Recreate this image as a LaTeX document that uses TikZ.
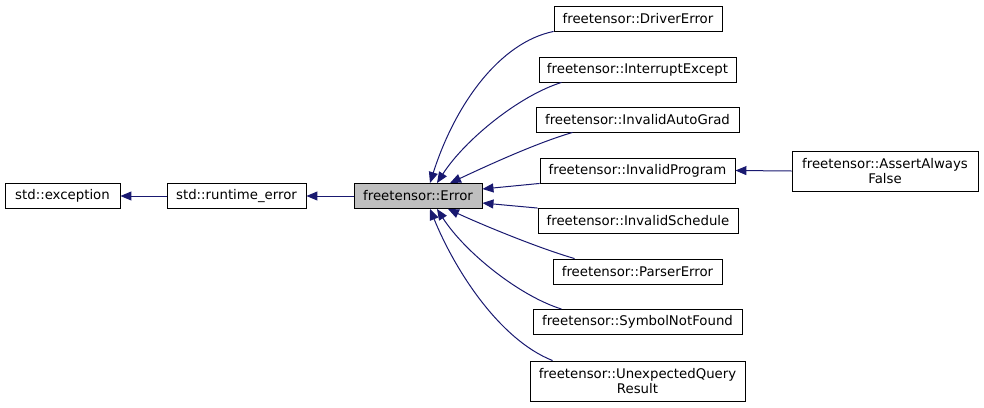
\documentclass[tikz,border=0pt]{standalone}
\usepackage{fontspec}
\setmainfont{DejaVu Sans}
\usetikzlibrary{arrows.meta}
\definecolor{edgeblue}{RGB}{25,25,112}
\definecolor{focusgray}{RGB}{191,191,191}
\begin{document}
\begin{tikzpicture}[x=1pt,y=-1pt,
  cls/.style={draw=black, line width=0.9pt, inner sep=0pt, align=center,
    font=\fontsize{13.3}{14.5}\selectfont, minimum height=25pt},
  tall/.style={minimum height=40pt},
  edge/.style={draw=edgeblue, line width=1pt, -{Triangle[length=11pt,width=9pt]}}]
\useasboundingbox (0,0) rectangle (984,407);
\node[cls, minimum width=115pt] (exc) at (62.5,196) {std::exception};
\node[cls, minimum width=139pt] (rte) at (236.5,196) {std::runtime\_error};
\node[cls, minimum width=128pt, fill=focusgray] (err) at (418,196) {freetensor::Error};
\node[cls, minimum width=168pt] (drv) at (638,18.5) {freetensor::DriverError};
\node[cls, minimum width=197pt] (intr) at (637.5,69.5) {freetensor::InterruptExcept};
\node[cls, minimum width=203pt] (iag) at (637.5,119.5) {freetensor::InvalidAutoGrad};
\node[cls, minimum width=195pt] (ipr) at (637.5,170.5) {freetensor::InvalidProgram};
\node[cls, minimum width=200pt] (isc) at (638,221) {freetensor::InvalidSchedule};
\node[cls, minimum width=169pt] (par) at (637.5,271.5) {freetensor::ParserError};
\node[cls, minimum width=209pt] (snf) at (637.5,322) {freetensor::SymbolNotFound};
\node[cls, tall, minimum width=215pt] (uqr) at (637.5,381) {freetensor::UnexpectedQuery\\Result};
\node[cls, tall, minimum width=186pt] (aaf) at (885,171) {freetensor::AssertAlways\\False};

\draw[edge] (rte.west) -- (exc.east);
\draw[edge] (err.west) -- (rte.east);
\draw[edge] (aaf.west) -- (ipr.east);

\draw[edge] (drv.south west) .. controls +(-54,11) and +(25,-78.5) .. ([xshift=12pt]err.north);
\draw[edge] ([xshift=23pt]intr.south west) .. controls +(-42,13) and +(28,-43.5) .. ([xshift=19pt]err.north);
\draw[edge] ([xshift=37pt]iag.south west) .. controls +(-38,11) and +(30,-14) .. ([xshift=32pt]err.north);
\draw[edge] (ipr.south west) -- ([yshift=7pt]err.east);
\draw[edge] (isc.north west) -- ([yshift=-7pt]err.east);
\draw[edge] ([xshift=22pt]par.north west) .. controls +(-38,-11) and +(30,14) .. ([xshift=30pt]err.south);
\draw[edge] ([xshift=29pt]snf.north west) .. controls +(-42,-13) and +(28,43.5) .. ([xshift=19pt]err.south);
\draw[edge] ([xshift=23pt]uqr.north west) .. controls +(-53,-21) and +(25,61.5) .. ([xshift=12pt]err.south);
\end{tikzpicture}
\end{document}
